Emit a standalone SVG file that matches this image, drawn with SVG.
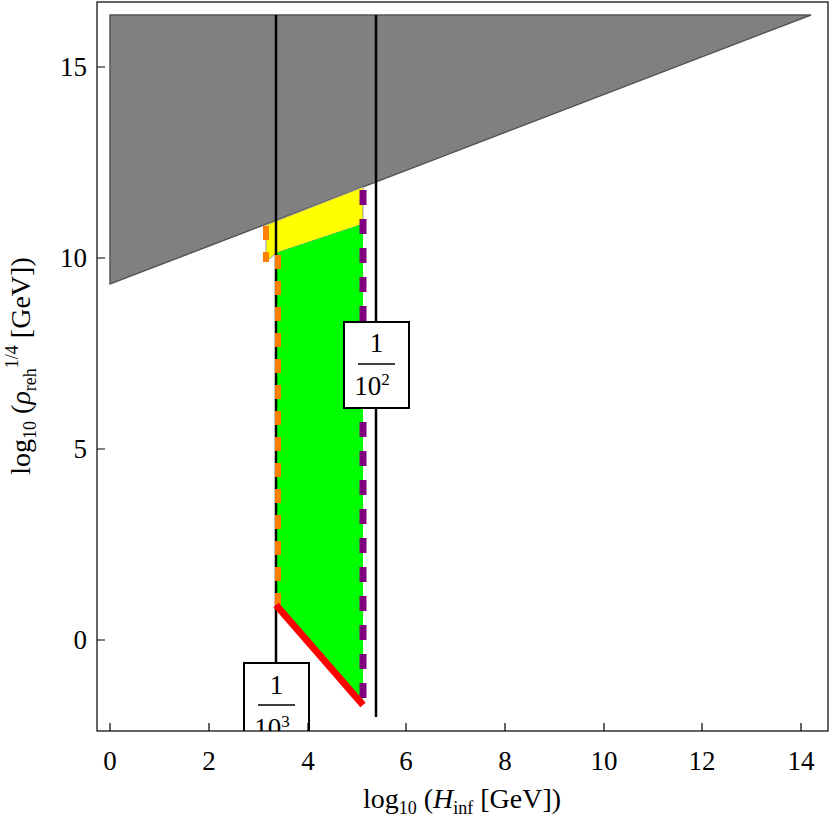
<svg xmlns="http://www.w3.org/2000/svg" width="830" height="821" viewBox="0 0 830 821">
<style>
text{font-family:"Liberation Serif","Times New Roman",serif;fill:#000}
.tk{font-size:27px}
.ax{stroke:#000;stroke-width:1.2;fill:none}
</style>
<defs><clipPath id="c"><rect x="97" y="2" width="731" height="729"/></clipPath></defs>
<rect width="830" height="821" fill="#fff"/>
<g clip-path="url(#c)">
<polygon id="gray" points="110,284 110,15 811,15" fill="#808080" stroke="#555" stroke-width="1.5"/>
<polygon id="yellow" points="266,225 363,187 363,224 276,253 266,262" fill="#ffff00" stroke="#999" stroke-width="1"/>
<polygon id="green" points="276,253 363,224 363,705 276,605" fill="#00ff00"/>
<g id="connectors">
<line x1="276" y1="15" x2="276" y2="665" stroke="#000" stroke-width="2.5"/>
<line x1="376" y1="15" x2="376" y2="717" stroke="#000" stroke-width="2.5"/>
<line x1="266" y1="226" x2="266" y2="262" stroke="#ff7f00" stroke-width="6" stroke-dasharray="14,12"/>
<line x1="278" y1="255" x2="278" y2="605" stroke="#ff7f00" stroke-width="6" stroke-dasharray="14,12"/>
<line x1="363" y1="190" x2="363" y2="707" stroke="#800080" stroke-width="7" stroke-dasharray="15,14"/>
<line x1="276" y1="605" x2="363" y2="705" stroke="#ff0000" stroke-width="7"/>
</g>
<g id="label3"><rect x="244" y="663" width="65" height="90" fill="#fff" stroke="#000" stroke-width="2"/>
<text x="276.5" y="694" text-anchor="middle" class="tk">1</text>
<line x1="258" y1="705" x2="295" y2="705" stroke="#000" stroke-width="1.5"/>
<text x="272" y="737" text-anchor="middle" class="tk">10<tspan font-size="17" dy="-10">3</tspan></text></g>
</g>
<g id="label2"><rect x="344" y="322" width="65" height="86" fill="#fff" stroke="#000" stroke-width="2"/>
<text x="376.5" y="352" text-anchor="middle" class="tk">1</text>
<line x1="358" y1="364" x2="395" y2="364" stroke="#000" stroke-width="1.5"/>
<text x="372" y="395" text-anchor="middle" class="tk">10<tspan font-size="17" dy="-10">2</tspan></text></g>
<rect x="97" y="2" width="731" height="729" class="ax"/>
<g class="ax">
<path d="M110,731v-8M209,731v-8M308,731v-8M406,731v-8M505,731v-8M604,731v-8M702,731v-8M801,731v-8"/>
<path d="M97,67h8M97,258h8M97,449h8M97,640h8"/>
</g>
<g class="tk" text-anchor="middle">
<text x="110" y="770">0</text><text x="209" y="770">2</text><text x="308" y="770">4</text><text x="406" y="770">6</text><text x="505" y="770">8</text><text x="604" y="770">10</text><text x="702" y="770">12</text><text x="801" y="770">14</text>
</g>
<g class="tk" text-anchor="end">
<text x="87" y="76">15</text><text x="87" y="267">10</text><text x="87" y="458">5</text><text x="87" y="649">0</text>
</g>
<text x="462" y="808" text-anchor="middle" font-size="28">log<tspan font-size="18" dy="6">10</tspan><tspan dy="-6"> (</tspan><tspan font-style="italic">H</tspan><tspan font-size="18" dy="6">inf</tspan><tspan dy="-6"> [GeV])</tspan></text>
<text transform="translate(30,366) rotate(-90)" text-anchor="middle" font-size="28">log<tspan font-size="18" dy="6">10</tspan><tspan dy="-6"> (</tspan><tspan font-style="italic">ρ</tspan><tspan font-size="18" dy="6">reh</tspan><tspan font-size="18" dy="-18">1/4</tspan><tspan dy="12"> [GeV])</tspan></text>
</svg>
